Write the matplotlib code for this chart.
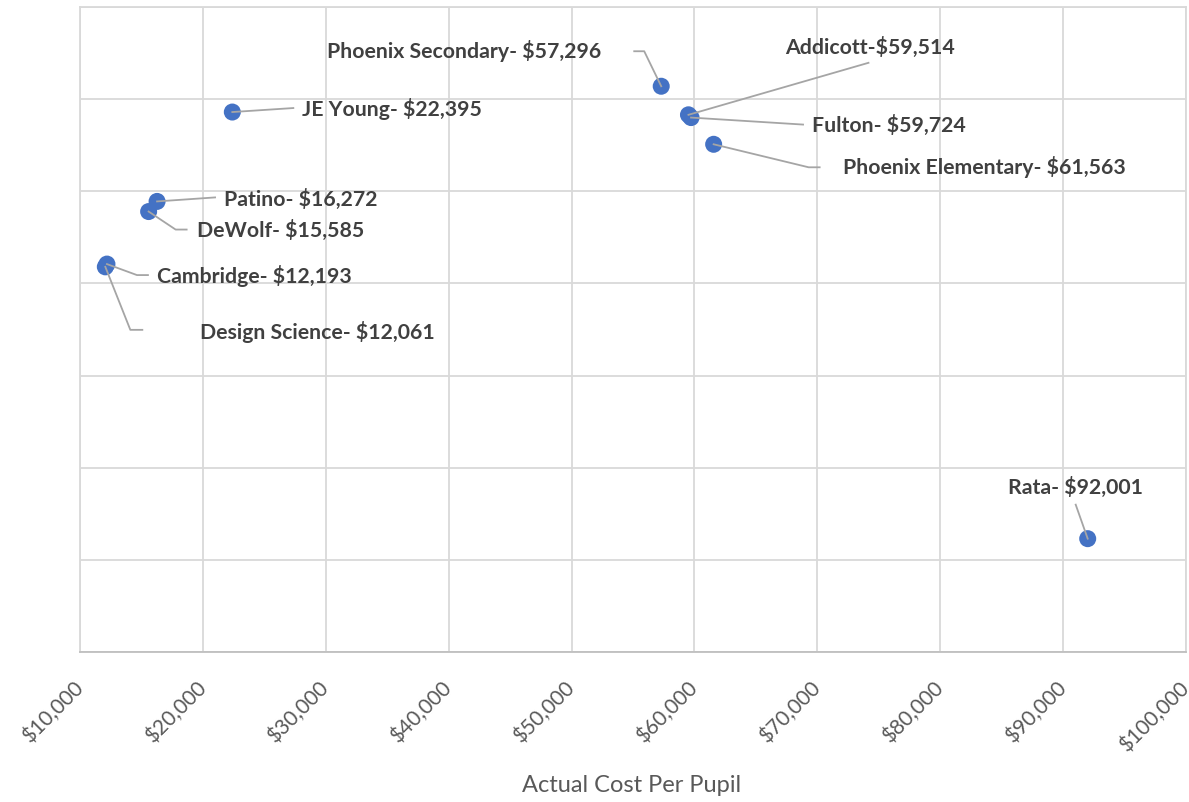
import matplotlib
matplotlib.use("Agg")
import matplotlib.pyplot as plt
from matplotlib.ticker import FuncFormatter, MultipleLocator
from matplotlib.transforms import IdentityTransform

# data (y axis has no labels, values estimated from grid)
schools = ["Phoenix Secondary", "Addicott", "Fulton", "Phoenix Elementary",
           "JE Young", "Patino", "DeWolf", "Cambridge", "Design Science", "Rata"]
cost_per_pupil = [57296, 59514, 59724, 61563, 22395, 16272, 15585, 12193, 12061, 92001]
y_values = [6.14, 5.83, 5.80, 5.51, 5.86, 4.89, 4.78, 4.21, 4.18, 1.23]
label_texts = ["Phoenix Secondary- $57,296", "Addicott-$59,514", "Fulton- $59,724",
               "Phoenix Elementary- $61,563", "JE Young- $22,395", "Patino- $16,272",
               "DeWolf- $15,585", "Cambridge- $12,193", "Design Science- $12,061",
               "Rata- $92,001"]

# label placement in pixels relative to each point: (dx, dy, ha), leader vertices
label_offsets = [(-60, 35, "right"), (182, 67, "center"), (121, -8, "left"),
                 (129, -23, "left"), (70, 3, "left"), (67, 2, "left"),
                 (48, -19, "left"), (50, -12, "left"), (95, -65, "left"),
                 (-12, 51, "center")]
leader_paths = [[(-17, 35), (-27, 35)], [(180, 52)], [(112, -7)],
                [(95, -23), (106, -23)], [(61, 4)], [(58, 4)],
                [(27, -18), (38, -18)], [(30, -11), (41, -11)],
                [(25, -63), (37, -63)], [(-12, 34)]]

W, H, DPI = 1189, 802, 100
fig = plt.figure(figsize=(W / DPI, H / DPI), dpi=DPI)
ax = fig.add_axes([80 / W, (H - 652) / H, (1186 - 80) / W, (652 - 7) / H])

ax.scatter(cost_per_pupil, y_values, s=150, color="#4472C4", zorder=3,
           edgecolors="none")

ax.set_xlim(10000, 100000)
ax.set_ylim(0, 7)
ax.xaxis.set_major_locator(MultipleLocator(10000))
ax.yaxis.set_major_locator(MultipleLocator(1))
ax.xaxis.set_major_formatter(FuncFormatter(lambda v, p: f"${v:,.0f}"))
ax.yaxis.set_ticklabels([])
ax.grid(True, color="#d9d9d9", linewidth=1.3)
ax.set_axisbelow(True)
ax.tick_params(axis="both", length=0)
ax.tick_params(axis="x", pad=24, labelsize=15, labelcolor="#595959")
for lbl in ax.get_xticklabels():
    lbl.set_rotation(45)
    lbl.set_ha("right")
    lbl.set_va("center")
    lbl.set_rotation_mode("anchor")
    lbl.set_family("Lato")
for side in ["top", "left", "right"]:
    ax.spines[side].set_color("#d9d9d9")
    ax.spines[side].set_linewidth(1.3)
ax.spines["bottom"].set_color("#bfbfbf")
ax.spines["bottom"].set_linewidth(1.3)

ax.set_xlabel("Actual Cost Per Pupil", fontsize=17, color="#595959",
              family="Lato", va="center")
ax.xaxis.set_label_coords(0.499, -(785 - 652) / (652 - 7))

# leader lines and labels
for x, y, txt, (dx, dy, ha), path in zip(cost_per_pupil, y_values, label_texts,
                                          label_offsets, leader_paths):
    px, py = ax.transData.transform((x, y))
    xs = [px] + [px + a for a, b in path]
    ys = [py] + [py + b for a, b in path]
    fig.add_artist(plt.Line2D(xs, ys, transform=IdentityTransform(),
                              color="#a5a5a5", linewidth=1.3, zorder=4))
    ax.annotate(txt, xy=(x, y), xytext=(dx, dy), textcoords="offset pixels",
                ha=ha, va="center", fontsize=15.3, fontweight="bold",
                color="#404040", family="Lato", zorder=5)

fig.savefig("out.png", dpi=DPI)
